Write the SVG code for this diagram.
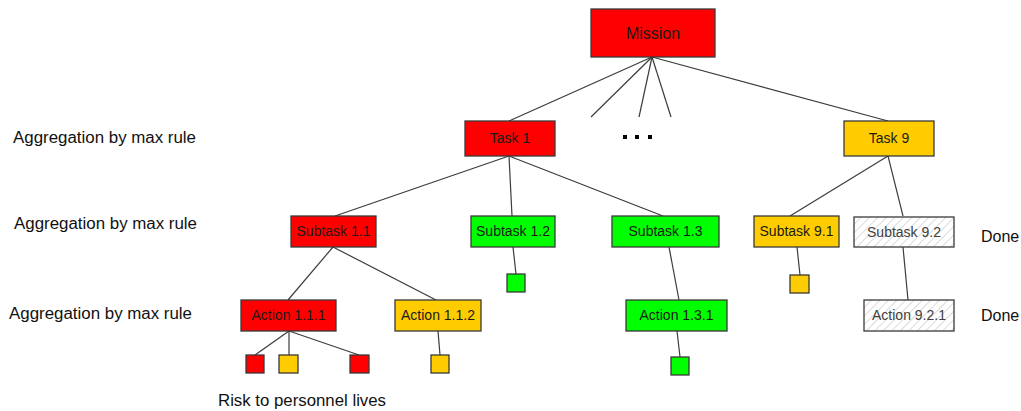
<svg xmlns="http://www.w3.org/2000/svg" width="1021" height="411" viewBox="0 0 1021 411">
<style>
.n{stroke:#3a3a3a;stroke-width:1.3}
.r{fill:#FF0000}
.y{fill:#FFCC00}
.g{fill:#00FF00}
.h{fill:url(#hatch)}
.t{font-family:"Liberation Sans",Arial,sans-serif;font-size:14px;fill:#1a1a1a;text-anchor:middle}
.th{fill:#404040}
.tm{font-size:16px}
.lab{font-family:"Liberation Sans",Arial,sans-serif;font-size:16px;fill:#111}
.e{stroke:#3c3c3c;stroke-width:1.2;fill:none}
</style>
<defs>
<pattern id="hatch" patternUnits="userSpaceOnUse" width="6" height="6" patternTransform="rotate(45)">
<rect width="6" height="6" fill="#ffffff"/>
<line x1="0" y1="0" x2="0" y2="6" stroke="#c4c4c4" stroke-width="1.2"/>
</pattern>
</defs>
<rect width="1021" height="411" fill="#ffffff"/>
<g id="connectors">
<line class="e" x1="652" y1="57" x2="509" y2="121"/>
<line class="e" x1="652" y1="57" x2="591" y2="117"/>
<line class="e" x1="652" y1="57" x2="639" y2="117"/>
<line class="e" x1="652" y1="57" x2="671" y2="117"/>
<line class="e" x1="652" y1="57" x2="888" y2="121"/>
<line class="e" x1="509" y1="156" x2="335" y2="216"/>
<line class="e" x1="509" y1="156" x2="512" y2="216"/>
<line class="e" x1="509" y1="156" x2="663" y2="216"/>
<line class="e" x1="888" y1="156" x2="790" y2="216"/>
<line class="e" x1="888" y1="156" x2="903" y2="216"/>
<line class="e" x1="333" y1="247" x2="288" y2="300"/>
<line class="e" x1="333" y1="247" x2="436" y2="300"/>
<line class="e" x1="513" y1="247" x2="516" y2="274"/>
<line class="e" x1="669" y1="247" x2="679" y2="300"/>
<line class="e" x1="797" y1="247" x2="800" y2="275"/>
<line class="e" x1="903" y1="247" x2="908" y2="300"/>
<line class="e" x1="289" y1="331" x2="255" y2="355"/>
<line class="e" x1="289" y1="331" x2="289" y2="355"/>
<line class="e" x1="289" y1="331" x2="359" y2="355"/>
<line class="e" x1="438" y1="331" x2="440" y2="355"/>
<line class="e" x1="677" y1="331" x2="680" y2="357"/>
</g>
<g id="mission"><rect class="n r" x="591" y="9" width="124" height="48"/><text class="t tm" x="653" y="39">Mission</text></g>
<g id="task1"><rect class="n r" x="465" y="121" width="90" height="35"/><text class="t" x="510" y="143">Task 1</text></g>
<g id="ellipsis"><rect x="623" y="135" width="4" height="4" fill="#000"/><rect x="635" y="135" width="4" height="4" fill="#000"/><rect x="648" y="135" width="4" height="4" fill="#000"/></g>
<g id="task9"><rect class="n y" x="844" y="121" width="90" height="35"/><text class="t" x="889" y="143">Task 9</text></g>
<g id="subtask11"><rect class="n r" x="291" y="216" width="85" height="31"/><text class="t" x="333.5" y="236">Subtask 1.1</text></g>
<g id="subtask12"><rect class="n g" x="471" y="216" width="84" height="31"/><text class="t" x="513" y="236">Subtask 1.2</text></g>
<g id="subtask13"><rect class="n g" x="612" y="216" width="107" height="31"/><text class="t" x="665.5" y="236">Subtask 1.3</text></g>
<g id="subtask91"><rect class="n y" x="754" y="216" width="85" height="31"/><text class="t" x="796.5" y="236">Subtask 9.1</text></g>
<g id="subtask92"><rect class="n h" x="854" y="217" width="100" height="30"/><text class="t th" x="904" y="237">Subtask 9.2</text></g>
<g id="action111"><rect class="n r" x="241" y="300" width="95" height="31"/><text class="t" x="288.5" y="320">Action 1.1.1</text></g>
<g id="action112"><rect class="n y" x="395" y="300" width="86" height="31"/><text class="t" x="438" y="320">Action 1.1.2</text></g>
<g id="action131"><rect class="n g" x="626" y="300" width="101" height="31"/><text class="t" x="676.5" y="320">Action 1.3.1</text></g>
<g id="action921"><rect class="n h" x="864" y="300" width="90" height="31"/><text class="t th" x="909" y="320">Action 9.2.1</text></g>
<g id="risk1"><rect class="n r" x="246" y="355" width="18" height="18"/></g>
<g id="risk2"><rect class="n y" x="279" y="355" width="19" height="18"/></g>
<g id="risk3"><rect class="n r" x="350" y="355" width="19" height="18"/></g>
<g id="risk4"><rect class="n y" x="431" y="355" width="18" height="18"/></g>
<g id="risk5"><rect class="n g" x="507" y="274" width="18" height="18"/></g>
<g id="risk6"><rect class="n g" x="671" y="357" width="18" height="18"/></g>
<g id="risk7"><rect class="n y" x="790" y="275" width="19" height="18"/></g>
<g id="labels">
<text class="lab" x="13" y="143" textLength="183" lengthAdjust="spacingAndGlyphs">Aggregation by max rule</text>
<text class="lab" x="14" y="229" textLength="183" lengthAdjust="spacingAndGlyphs">Aggregation by max rule</text>
<text class="lab" x="9" y="319" textLength="183" lengthAdjust="spacingAndGlyphs">Aggregation by max rule</text>
<text class="lab" x="981" y="242">Done</text>
<text class="lab" x="981" y="321">Done</text>
<text class="lab" x="218" y="406" textLength="168" lengthAdjust="spacingAndGlyphs">Risk to personnel lives</text>
</g>
</svg>
